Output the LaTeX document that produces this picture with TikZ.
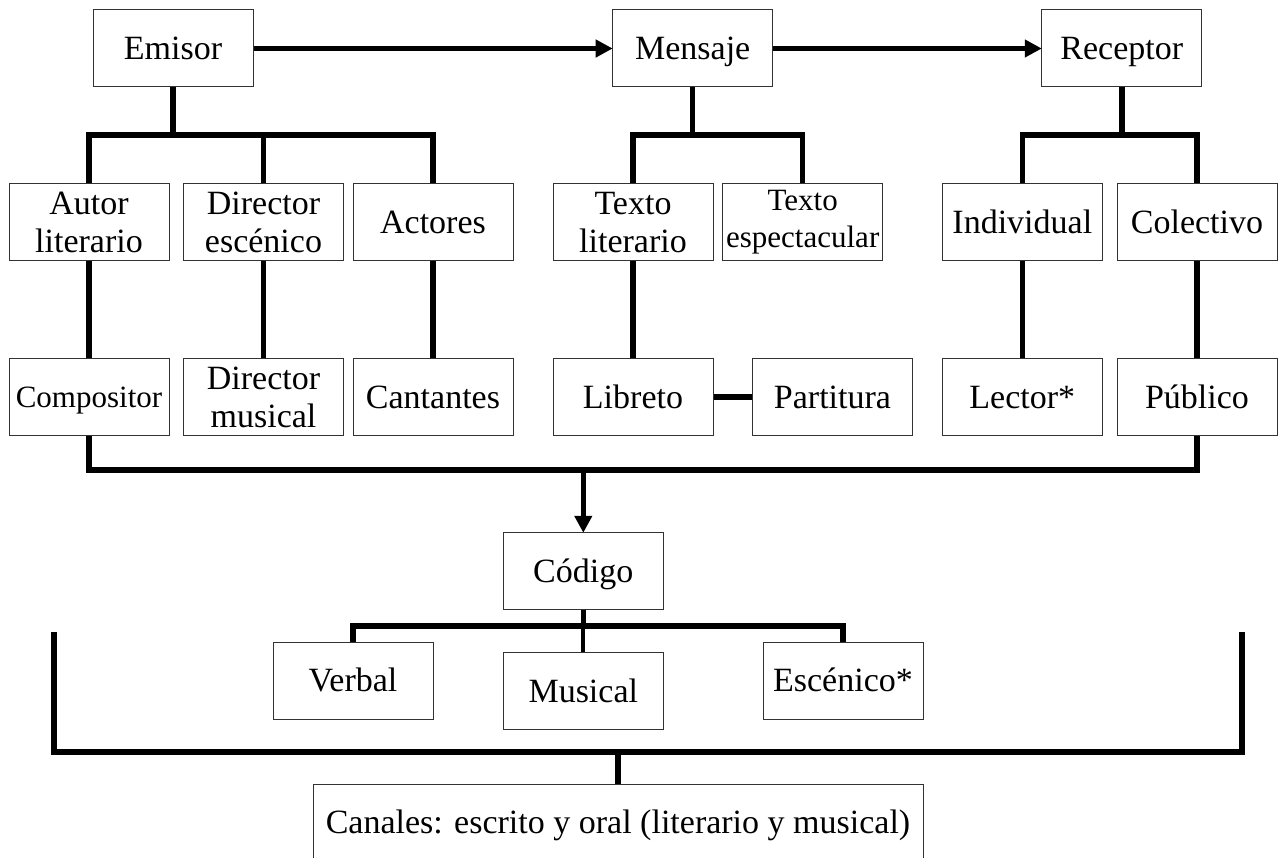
\documentclass[tikz,border=0pt]{standalone}
\usepackage{fontspec}
\setmainfont{Liberation Serif}
\usetikzlibrary{arrows.meta}

\tikzset{
  box/.style={draw=black!80, line width=1pt, rectangle, inner sep=0pt,
    minimum width=160pt, minimum height=77pt, align=center,
    font=\fontsize{34}{38}\selectfont},
  smallbox/.style={box, font=\fontsize{31}{37}\selectfont},
  % single-line labels: fixed height and depth so capitals sit centred
  box1/.style={box, text height=30pt, text depth=7.5pt},
  smallbox1/.style={smallbox, text height=28pt, text depth=7.5pt},
  conn/.style={line width=5.5pt, line join=miter, draw=black},
  thinconn/.style={conn, line width=4pt},
  arrowconn/.style={conn, -{Triangle[length=17pt,width=17pt]}, shorten >=-0.5pt},
}

\begin{document}
\begin{tikzpicture}[x=1pt, y=-1pt]
  \useasboundingbox (0,0) rectangle (1283,858);

  % top level: communication chain
  \node[box1] (emisor)   at (173,48.5)    {Emisor};
  \node[box1] (mensaje)  at (692.7,48.5)  {Mensaje};
  \node[box1] (receptor) at (1121.8,48.5) {Receptor};

  % second level
  \node[box] (autor)    at (89,222.5)     {Autor\\literario};
  \node[box] (direc)    at (263.5,222.5)  {Director\\escénico};
  \node[box1] (actores) at (433,222.5)    {Actores};
  \node[box] (textlit)  at (633,222.5)    {Texto\\literario};
  \node[smallbox] (textesp) at (802.7,222.5) {Texto\\espectacular};
  \node[box1] (indiv)   at (1022.3,222.5) {Individual};
  \node[box1] (colect)  at (1197,222.5)   {Colectivo};

  % third level
  \node[smallbox1] (compositor) at (89,397) {Compositor};
  \node[box] (dirmus)     at (263.5,397)  {Director\\musical};
  \node[box1] (cantantes) at (433,397)    {Cantantes};
  \node[box1] (libreto)   at (633,397)    {Libreto};
  \node[box1] (partitura) at (832.5,397)  {Partitura};
  \node[box1] (lector)    at (1022.3,397) {Lector*};
  \node[box1] (publico)   at (1197,397)   {Público};

  % code and its kinds
  \node[box1] (codigo)   at (583.3,571.3) {Código};
  \node[box1] (verbal)   at (353,680.5)   {Verbal};
  \node[box1] (musical)  at (583.3,691.3) {Musical};
  \node[box1] (escenico) at (843,680.5)   {Escénico*};

  % channels
  \node[box1, minimum width=610pt] (canales) at (618,822.5)
    {Canales: escrito y oral (literario y musical)};

  % bar levels of the branching connectors
  \coordinate (eb) at (173,135);
  \coordinate (cb) at (583.3,470);
  \coordinate (kb) at (583.3,626);
  \coordinate (bb) at (618,752);
  \coordinate (bl) at (54,632);
  \coordinate (br) at (1242,632);

  % chain arrows
  \draw[arrowconn] (emisor) -- (mensaje);
  \draw[arrowconn] (mensaje) -- (receptor);

  % Emisor branch
  \draw[conn] (emisor.south) -- (emisor.south |- eb);
  \draw[conn] (autor.north) -- (autor.north |- eb) -- (actores.north |- eb) -- (actores.north);
  \draw[conn] (direc.north) -- (direc.north |- eb);

  % Mensaje branch
  \draw[conn] (mensaje.south) -- (mensaje.south |- eb);
  \draw[conn] (textlit.north) -- (textlit.north |- eb) -- (textesp.north |- eb) -- (textesp.north);

  % Receptor branch
  \draw[conn] (receptor.south) -- (receptor.south |- eb);
  \draw[conn] (indiv.north) -- (indiv.north |- eb) -- (colect.north |- eb) -- (colect.north);

  % second to third level
  \draw[conn] (autor) -- (compositor);
  \draw[conn] (direc) -- (dirmus);
  \draw[conn] (actores) -- (cantantes);
  \draw[conn] (textlit) -- (libreto);
  \draw[conn] (libreto) -- (partitura);
  \draw[conn] (indiv) -- (lector);
  \draw[conn] (colect) -- (publico);

  % collector towards the code
  \draw[conn] (compositor.south) -- (compositor.south |- cb) -- (publico.south |- cb) -- (publico.south);
  \draw[arrowconn] (codigo.north |- cb) -- (codigo.north);

  % kinds of code
  \draw[conn] (codigo.south) -- (codigo.south |- kb);
  \draw[thinconn] (musical.north |- kb) -- (musical.north);
  \draw[conn] (verbal.north) -- (verbal.north |- kb) -- (escenico.north |- kb) -- (escenico.north);

  % bracket leading to the channels
  \draw[conn] (bl) -- (bl |- bb) -- (br |- bb) -- (br);
  \draw[conn] (canales.north) -- (canales.north |- bb);
\end{tikzpicture}
\end{document}
